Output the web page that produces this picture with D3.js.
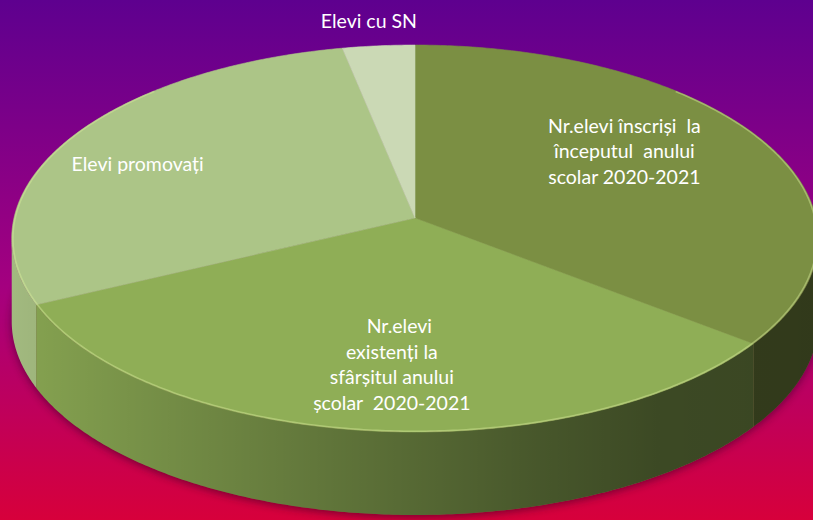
<html>
<head>
<script src="https://d3js.org/d3.v7.min.js"></script>
<style>
  body { margin: 0; }
  svg { display: block; }
</style>
</head>
<body>
<svg id="chart" width="813" height="520"></svg>
<script>
// slices, clockwise from 12 o'clock
const categories = [
    "Nr.elevi înscriși la începutul anului scolar 2020-2021",
    "Nr.elevi existenți la sfârșitul anului școlar 2020-2021",
    "Elevi promovați",
    "Elevi cu SN"
];
const values = [333, 303, 271, 30];
const labelLines = [
    ["Nr.elevi înscriși  la", "începutul  anului", "scolar 2020-2021"],
    ["   Nr.elevi", "existenți la", "sfârșitul anului", "școlar  2020-2021"],
    ["Elevi promovați"],
    ["Elevi cu SN"]
];
const sliceColors = ["#7b8f43", "#8fae56", "#acc587", "#cbd9b5"];

const svg = d3.select("svg#chart");
const W = 813, H = 520;

// perspective disc: center, half axes, depth factor, wall height
const cx = 415, cy = 218, A = 401, B = 191.3, k = 0.106, depth = 83;

function proj(theta, r, dz) {
    const u = r * Math.sin(theta), v = -r * Math.cos(theta);
    const w = 1 - k * v;
    return [cx + A * u / w, cy + B * v / w + (dz || 0)];
}

function arcPoints(a0, a1, r, dz) {
    const n = Math.max(2, Math.ceil(Math.abs(a1 - a0) / 0.01));
    return d3.range(n + 1).map(i => proj(a0 + (a1 - a0) * i / n, r, dz));
}

const line = d3.line();
const defs = svg.append("defs");

// background
const bg = defs.append("linearGradient").attr("id", "bg")
    .attr("x1", 0).attr("y1", 0).attr("x2", 0).attr("y2", 1);
bg.append("stop").attr("offset", 0).attr("stop-color", "#5e008f");
bg.append("stop").attr("offset", 0.55).attr("stop-color", "#a4007f");
bg.append("stop").attr("offset", 1).attr("stop-color", "#d7003b");
svg.append("rect").attr("width", W).attr("height", H).attr("fill", "url(#bg)");

// wall shading, light from the left
const shade = defs.append("linearGradient").attr("id", "shade")
    .attr("gradientUnits", "userSpaceOnUse")
    .attr("x1", 12).attr("y1", 0).attr("x2", 818).attr("y2", 0);
[[0, 0.06], [0.35, 0.3], [0.65, 0.5], [0.8, 0.58], [1, 0.6]].forEach(s => {
    shade.append("stop").attr("offset", s[0]).attr("stop-color", "#000").attr("stop-opacity", s[1]);
});

defs.append("filter").attr("id", "blur").attr("x", -0.1).attr("y", -0.1).attr("width", 1.2).attr("height", 1.3)
    .append("feGaussianBlur").attr("stdDeviation", 4);

const pie = d3.pie().sort(null).value(d => d)(values);

// shadow under the disc
svg.append("path")
    .attr("d", line(arcPoints(0, 2 * Math.PI, 1, depth + 2)) + "Z")
    .attr("fill", "#2a0020").attr("opacity", 0.55)
    .attr("filter", "url(#blur)");

// front wall
const vis0 = Math.acos(-k), vis1 = 2 * Math.PI - vis0;
const walls = svg.append("g");
pie.forEach((p, i) => {
    const s = Math.max(p.startAngle, vis0), e = Math.min(p.endAngle, vis1);
    if (e <= s) return;
    const pts = arcPoints(s, e, 1, 0).concat(arcPoints(e, s, 1, depth));
    const d = line(pts) + "Z";
    walls.append("path").attr("d", d).attr("fill", sliceColors[i]);
    walls.append("path").attr("d", d).attr("fill", "url(#shade)");
});

// top faces
const tops = svg.append("g");
pie.forEach((p, i) => {
    const pts = [[cx, cy]].concat(arcPoints(p.startAngle, p.endAngle, 1, 0));
    tops.append("path").attr("d", line(pts) + "Z")
        .attr("fill", sliceColors[i])
        .attr("stroke", sliceColors[i]).attr("stroke-width", 0.6);
});

// rim highlight
svg.append("path")
    .attr("d", line(arcPoints(vis0 - 0.9, vis1 + 0.9, 0.997, 0)))
    .attr("fill", "none").attr("stroke", "#d6ec9c")
    .attr("stroke-opacity", 0.45).attr("stroke-width", 1.6);

// labels: angle (deg, from 12 o'clock) and radius on the disc where each block is centred
const labelAnchor = [[56.5, 0.65], [184.3, 0.712], [292.2, 0.77], [353.6, 1.157]];
const lineGap = 25.5;
const labels = svg.append("g")
    .style("font-family", "Lato, 'Open Sans', sans-serif")
    .style("font-size", "19.5px")
    .attr("fill", "#ffffff")
    .attr("text-anchor", "middle");

pie.forEach((p, i) => {
    const [x, y] = proj(labelAnchor[i][0] * Math.PI / 180, labelAnchor[i][1], 0);
    const lines = labelLines[i];
    const t = labels.append("text").attr("x", x).attr("y", y)
        .attr("xml:space", "preserve")
        .style("white-space", "pre");
    lines.forEach((ln, j) => {
        t.append("tspan").attr("x", x)
            .attr("y", y - (lines.length - 1) / 2 * lineGap + j * lineGap + 6.5)
            .text(ln);
    });
});
</script>
</body>
</html>
